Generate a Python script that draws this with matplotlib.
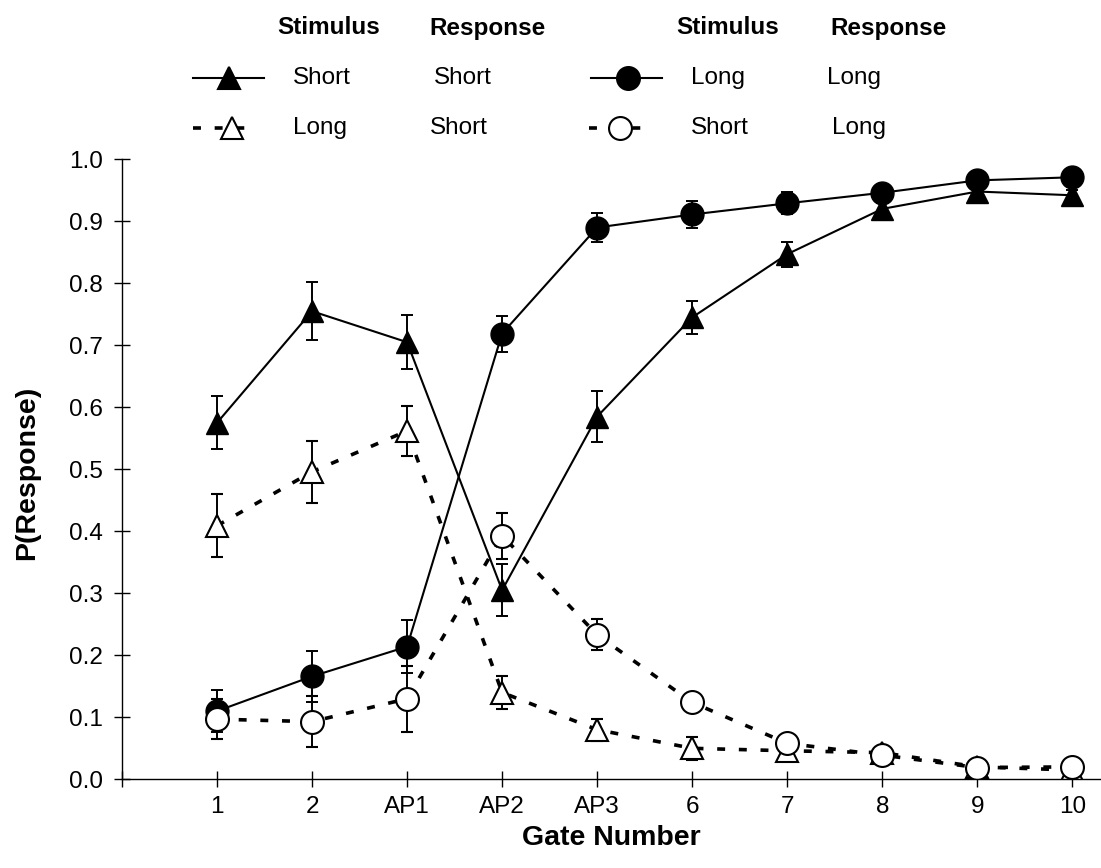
import matplotlib
matplotlib.use("Agg")
import matplotlib.pyplot as plt
from matplotlib.lines import Line2D
import numpy as np

plt.rcParams["font.family"] = ["Liberation Sans", "DejaVu Sans"]

# gate labels along the x axis
gates = ["1", "2", "AP1", "AP2", "AP3", "6", "7", "8", "9", "10"]

# stimulus short / response short (filled triangles, solid)
short_short = [0.575, 0.755, 0.705, 0.305, 0.585, 0.745, 0.847, 0.920, 0.948, 0.942]
short_short_err = [0.043, 0.047, 0.044, 0.042, 0.041, 0.027, 0.020, 0.010, 0.008, 0.008]

# stimulus long / response long (filled circles, solid)
long_long = [0.110, 0.166, 0.214, 0.719, 0.890, 0.911, 0.929, 0.946, 0.966, 0.971]
long_long_err = [0.034, 0.041, 0.043, 0.029, 0.024, 0.021, 0.018, 0.010, 0.008, 0.008]

# stimulus long / response short (open triangles, dashed)
long_short = [0.409, 0.496, 0.562, 0.140, 0.080, 0.050, 0.046, 0.043, 0.020, 0.015]
long_short_err = [0.051, 0.050, 0.040, 0.027, 0.018, 0.019, 0.008, 0.008, 0.005, 0.005]

# stimulus short / response long (open circles, dashed)
short_long = [0.097, 0.093, 0.130, 0.393, 0.233, 0.124, 0.058, 0.039, 0.019, 0.020]
short_long_err = [0.032, 0.041, 0.053, 0.037, 0.025, 0.015, 0.008, 0.010, 0.006, 0.005]

W, H = 1101, 868
DASH = (0, (2.2, 3.8))


def fx(px):
    return px / W


def fy(py):
    return 1 - py / H


fig = plt.figure(figsize=(W / 100, H / 100), dpi=100)
ax = fig.add_axes([fx(122), fy(779.3), fx(1101) - fx(122), fy(159.3) - fy(779.3)])

x = np.arange(1, len(gates) + 1)

common = dict(ecolor="black", elinewidth=1.4, capsize=4.2, capthick=1.4, markersize=16.5)
ax.errorbar(x, short_short, yerr=short_short_err, color="black", lw=1.5, marker="^",
            mfc="black", mec="black", **common)
ax.errorbar(x, long_long, yerr=long_long_err, color="black", lw=1.5, marker="o",
            mfc="black", mec="black", **common)
ax.errorbar(x, long_short, yerr=long_short_err, color="black", lw=2.6, ls=DASH, marker="^",
            mfc="white", mec="black", mew=1.5, **common)
ax.errorbar(x, short_long, yerr=short_long_err, color="black", lw=2.6, ls=DASH, marker="o",
            mfc="white", mec="black", mew=1.5, **common)

ax.set_xlim(0, (1101 - 122) / 95.03)
ax.set_ylim(0, 1.0)
ax.set_xticks(np.arange(0, len(gates) + 1))
ax.set_xticklabels([""] + gates)
ax.set_yticks(np.arange(0, 1.01, 0.1))
ax.set_yticklabels([f"{v:.1f}" for v in np.arange(0, 1.01, 0.1)])
ax.tick_params(axis="both", direction="inout", length=11, width=1, labelsize=17.5, color="black")
ax.tick_params(axis="x", pad=6.5)
ax.tick_params(axis="y", pad=8.5)
for side in ["top", "right"]:
    ax.spines[side].set_visible(False)
for side in ["left", "bottom"]:
    ax.spines[side].set_linewidth(1.0)

ax.set_xlabel("Gate Number", fontsize=20.5, fontweight="bold")
ax.xaxis.set_label_coords(0.5, -0.073)
ax.set_ylabel("P(Response)", fontsize=20.5, fontweight="bold")
ax.yaxis.set_label_coords(-0.084, 0.494)

# hand-built legend above the axes
txt = dict(fontsize=17.5, va="center", ha="left")
fig.text(fx(277), fy(28), "Stimulus", fontweight="bold", **txt)
fig.text(fx(429), fy(28), "Response", fontweight="bold", **txt)
fig.text(fx(676), fy(28), "Stimulus", fontweight="bold", **txt)
fig.text(fx(830), fy(28), "Response", fontweight="bold", **txt)

fig.text(fx(293), fy(78), "Short", **txt)
fig.text(fx(434), fy(78), "Short", **txt)
fig.text(fx(691), fy(78), "Long", **txt)
fig.text(fx(827), fy(78), "Long", **txt)

fig.text(fx(293), fy(128), "Long", **txt)
fig.text(fx(430), fy(128), "Short", **txt)
fig.text(fx(691), fy(128), "Short", **txt)
fig.text(fx(832), fy(128), "Long", **txt)

handles = [
    ([193, 229, 264], 78, "-", 1.5, "^", "black"),
    ([591, 628, 662], 78, "-", 1.5, "o", "black"),
    ([193, 232, 252], 128, DASH, 2.6, "^", "white"),
    ([589, 620, 650], 128, DASH, 2.6, "o", "white"),
]
for xs, yrow, ls, lw, mk, fc in handles:
    fig.add_artist(Line2D([fx(v) for v in xs], [fy(yrow)] * 3, transform=fig.transFigure,
                          color="black", ls=ls, lw=lw, marker=mk, markevery=[1],
                          markersize=16.5, mfc=fc, mec="black", mew=1.5))

fig.savefig("out.png", dpi=100)
